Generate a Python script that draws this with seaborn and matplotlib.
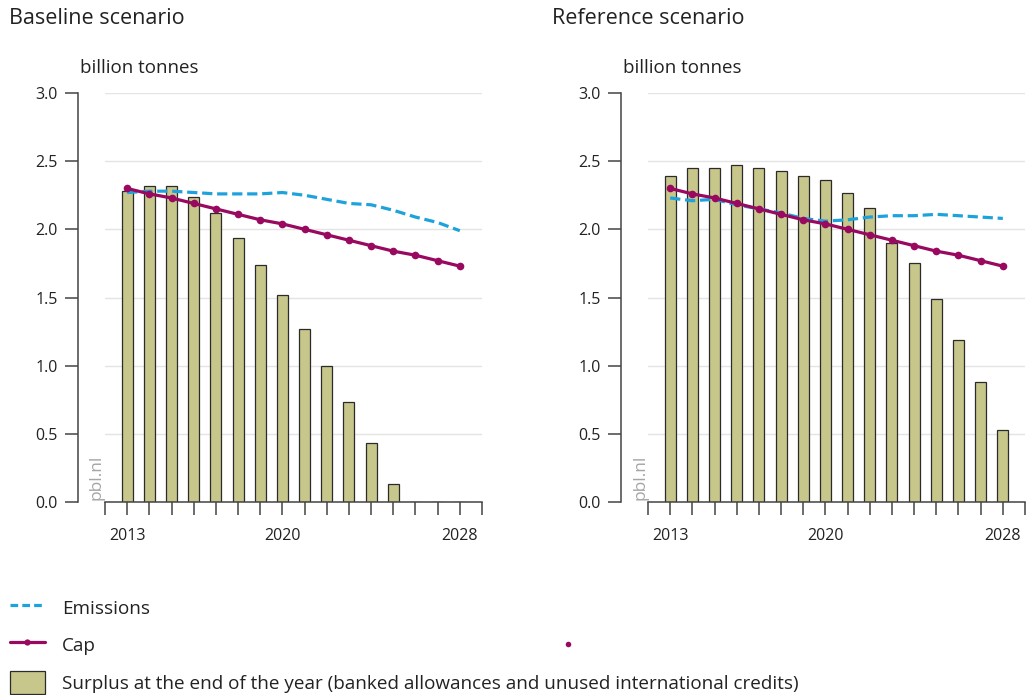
import matplotlib
matplotlib.use("Agg")
import matplotlib.pyplot as plt
import seaborn as sns
from matplotlib.lines import Line2D
from matplotlib.patches import Patch

# data (billion tonnes)
years = list(range(2013, 2029))
baseline_surplus = [2.28, 2.32, 2.32, 2.24, 2.12, 1.94, 1.74, 1.52, 1.27, 1.00, 0.73, 0.43, 0.13, 0.0, 0.0, 0.0]
reference_surplus = [2.39, 2.45, 2.45, 2.47, 2.45, 2.43, 2.39, 2.36, 2.27, 2.16, 1.90, 1.75, 1.49, 1.19, 0.88, 0.53]
cap = [2.30, 2.26, 2.23, 2.19, 2.15, 2.11, 2.07, 2.04, 2.00, 1.96, 1.92, 1.88, 1.84, 1.81, 1.77, 1.73]
baseline_emissions = [2.27, 2.28, 2.28, 2.27, 2.26, 2.26, 2.26, 2.27, 2.25, 2.22, 2.19, 2.18, 2.14, 2.09, 2.05, 1.99]
reference_emissions = [2.23, 2.21, 2.22, 2.18, 2.15, 2.12, 2.08, 2.06, 2.07, 2.09, 2.10, 2.10, 2.11, 2.10, 2.09, 2.08]

titles = ["Baseline scenario", "Reference scenario"]
unit_label = "billion tonnes"
year_labels = [2013, 2020, 2028]
legend_labels = ["Emissions", "Cap", "Surplus at the end of the year (banked allowances and unused international credits)"]

bar_color = "#c7c68b"
cap_color = "#98095f"
emis_color = "#1ea2dc"
axis_color = "#444444"
text_color = "#222222"

sns.set_style("white")
plt.rcParams["font.family"] = ["Open Sans", "DejaVu Sans"]

fig = plt.figure(figsize=(10.26, 6.95), dpi=100)
W, H = 1026, 695

panels = [
    (105, baseline_surplus, baseline_emissions),
    (648, reference_surplus, reference_emissions),
]

for i, (left_px, surplus, emissions) in enumerate(panels):
    ax = fig.add_axes([left_px / W, (H - 502) / H, 377 / W, (502 - 93) / H])
    sns.barplot(x=years, y=surplus, native_scale=True, width=0.5, color=bar_color,
                saturation=1, edgecolor="#2b2b2b", linewidth=0.9, ax=ax, zorder=2)
    sns.lineplot(x=years, y=emissions, ax=ax, color=emis_color, lw=2.3,
                 linestyle=(0, (3.2, 1.5)), zorder=3)
    sns.lineplot(x=years, y=cap, ax=ax, color=cap_color, lw=2.3, marker="o",
                 markersize=5.5, markeredgewidth=0, zorder=4)

    ax.set_xlim(2012, 2029)
    ax.set_ylim(0, 3.0)
    ax.set_yticks([0, 0.5, 1.0, 1.5, 2.0, 2.5, 3.0])
    ax.set_yticklabels([f"{v:.1f}" for v in [0, 0.5, 1.0, 1.5, 2.0, 2.5, 3.0]])
    ax.set_xticks(range(2012, 2030))
    ax.set_xticklabels([str(y) if y in year_labels else "" for y in range(2012, 2030)])
    ax.set_xlabel("")
    ax.set_ylabel("")

    ax.yaxis.grid(True, color="#e4e4e4", lw=1)
    ax.set_axisbelow(True)
    sns.despine(ax=ax)
    ax.spines["left"].set_position(("outward", 19.5))
    for side in ["left", "bottom"]:
        ax.spines[side].set_color(axis_color)
        ax.spines[side].set_linewidth(1.1)
    ax.tick_params(axis="both", which="major", direction="out", length=9.5, width=1.1,
                   color=axis_color, labelcolor=text_color, labelsize=11.5,
                   left=True, bottom=True)
    ax.tick_params(axis="y", pad=5)
    ax.tick_params(axis="x", pad=9)
    if ax.get_legend():
        ax.get_legend().remove()

    # panel title, unit and source text
    fig.text((left_px - 96) / W, (H - 19) / H, titles[i], fontsize=15.5, color=text_color,
             ha="left", va="center")
    fig.text((left_px - 25) / W, (H - 68) / H, unit_label, fontsize=13.5, color=text_color,
             ha="left", va="center")
    fig.text((left_px - 8) / W, (H - 500) / H, "pbl.nl", fontsize=12.5, color="#a5a5a5",
             rotation=90, ha="center", va="bottom")

handles = [
    Line2D([], [], color=emis_color, lw=2.3, linestyle=(0, (2.4, 1.3))),
    Line2D([], [], color=cap_color, lw=2.3, marker="o", markersize=4.5, markeredgewidth=0),
    Patch(facecolor=bar_color, edgecolor="#2b2b2b", linewidth=0.9),
]
fig.legend(handles, legend_labels, loc="upper left", bbox_to_anchor=(10 / W, (H - 596) / H),
           frameon=False, fontsize=13.6, handlelength=1.85, handleheight=1.55,
           handletextpad=0.9, labelspacing=0.72, borderaxespad=0, borderpad=0,
           labelcolor=text_color)

# stray cap marker that appears in the reference legend area
fig.legend([Line2D([], [], color=cap_color, ls="none", marker="o", markersize=4, markeredgewidth=0)],
           [""], loc="center", bbox_to_anchor=(568 / W, (H - 645) / H), frameon=False,
           handlelength=1, handletextpad=0)

fig.savefig("out.png", dpi=100)
